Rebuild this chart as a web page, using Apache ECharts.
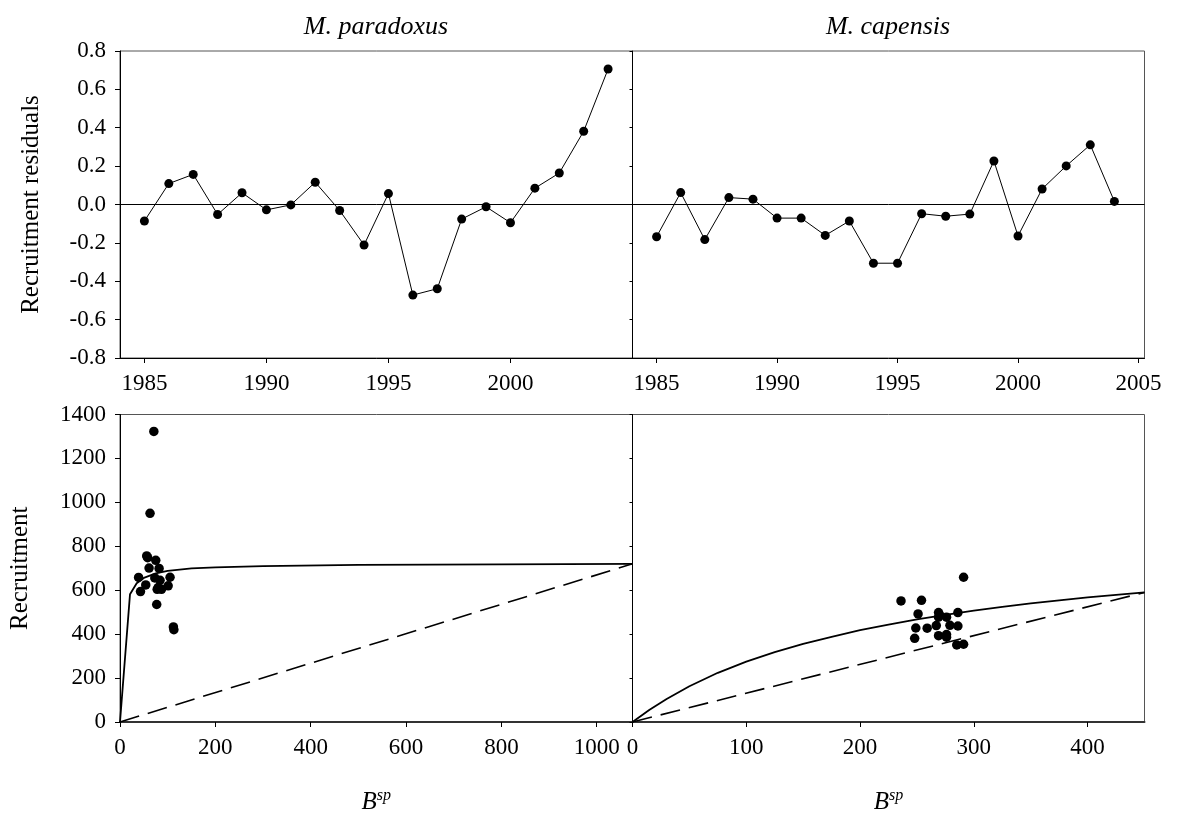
<!DOCTYPE html>
<html><head><meta charset="utf-8">
<script src="https://cdn.jsdelivr.net/npm/echarts@6/dist/echarts.min.js"></script>
<style>html,body{margin:0;padding:0;background:#fff}#c{width:1178px;height:818px}</style>
</head><body><div id="c"></div>
<script>
// ---- data ----
const years = [1985,1986,1987,1988,1989,1990,1991,1992,1993,1994,1995,1996,1997,1998,1999,2000,2001,2002,2003,2004];
const residParadoxus = [-0.086,0.109,0.157,-0.052,0.061,-0.028,-0.002,0.116,-0.031,-0.211,0.057,-0.472,-0.439,-0.076,-0.012,-0.095,0.085,0.164,0.382,0.706];
const residCapensis = [-0.168,0.062,-0.183,0.036,0.028,-0.071,-0.071,-0.161,-0.086,-0.306,-0.306,-0.048,-0.061,-0.050,0.227,-0.164,0.081,0.201,0.311,0.016];

const bspParadoxus = [71,63,56,75,61,82,39,105,73,84,54,43,78,87,101,77,112,113,58,80];
const recParadoxus = [1323,950,756,736,701,699,658,659,656,645,624,594,604,604,620,535,433,420,748,612];
const bspCapensis = [291,236,254,251,269,269,276,286,249,259,267,279,286,248,269,276,276,285,291,270];
const recCapensis = [659,551,554,492,498,477,477,498,428,427,439,440,437,381,393,398,386,351,354,487];

const curveParadoxusB = [0,21,35,50,75,100,150,200,300,500,800,1075];
const curveParadoxusR = [0,582,632,656,677,688,699,704,710,715,718,720];
const replParadoxusB = [0,1075];
const replParadoxusR = [0,720];
const curveCapensisB = [0,15,30,50,75,100,125,150,175,200,225,250,275,300,325,350,375,400,425,450];
const curveCapensisR = [0,56,105,163,224,275,318,356,388,418,443,467,488,507,524,540,554,567,579,590];
const replCapensisB = [0,450];
const replCapensisR = [0,590];

const yearTicksLeft = [1985,1990,1995,2000];
const yearTicksRight = [1985,1990,1995,2000,2005];
const bspTicksLeft = [0,200,400,600,800,1000];
const bspTicksRight = [0,100,200,300,400];

const titles = ['M. paradoxus','M. capensis'];

// ---- chart ----
const FONT = '"Liberation Serif","Times New Roman",serif';
const zip = (a,b) => a.map((v,i)=>[v,b[i]]);
const labelStyle = {color:'#000', fontFamily:FONT, fontSize:23};
const grids = [
  {left:120, top:51, width:512.5, height:307},
  {left:632.5, top:51, width:512, height:307},
  {left:120, top:414.5, width:512.5, height:307.5},
  {left:632.5, top:414.5, width:512, height:307.5}
].map(g=>Object.assign(g,{show:true, borderColor:'#555', borderWidth:1, backgroundColor:'transparent', containLabel:false}));

const plainFmt = v => String(Math.round(v));
function xAx(gi, min, max, ticks, thick){
  return {type:'value', gridIndex:gi, min, max,
    axisLine:{show:true, onZero:false, lineStyle:{color: thick?'#333':'#000', width: thick?2:1}},
    axisTick:{show:true, inside:false, length:5, customValues:ticks, lineStyle:{color:'#000'}},
    axisLabel:{show:true, customValues:ticks, margin:14, formatter:plainFmt, ...labelStyle},
    splitLine:{show:false}};
}
function yAx(gi, min, max, interval, showLabel, fmt){
  return {type:'value', gridIndex:gi, min, max, interval,
    axisLine:{show:true, onZero:false, lineStyle:{color:'#000', width:1}},
    axisTick:{show:true, inside:false, length: showLabel?5:3, lineStyle:{color:'#000'}},
    axisLabel:{show:showLabel, margin:14, formatter:fmt, ...labelStyle},
    splitLine:{show:false}};
}
const residFmt = v => Math.abs(v)<1e-9 ? '0.0' : v.toFixed(1);

const bName = {name:'{b|B}{s|sp}', nameLocation:'middle', nameGap:66,
  nameTextStyle:{rich:{b:{fontFamily:FONT,fontStyle:'italic',fontSize:25,color:'#000'},s:{fontFamily:FONT,fontStyle:'italic',fontSize:16,color:'#000',padding:[0,0,12,0]}}}};
const xAxes = [
  xAx(0,1984,2005,yearTicksLeft,false),
  xAx(1,1984,2005.25,yearTicksRight,false),
  Object.assign(xAx(2,0,1075,bspTicksLeft,true),bName),
  Object.assign(xAx(3,0,450,bspTicksRight,true),bName)
];
const yAxes = [
  Object.assign(yAx(0,-0.8,0.8,0.2,true,residFmt),{name:'Recruitment residuals', nameLocation:'middle', nameRotate:90, nameGap:76, nameTextStyle:{fontFamily:FONT,fontSize:25,color:'#000'}}),
  yAx(1,-0.8,0.8,0.2,false,residFmt),
  Object.assign(yAx(2,0,1400,200,true,plainFmt),{name:'Recruitment', nameLocation:'middle', nameRotate:90, nameGap:87, nameTextStyle:{fontFamily:FONT,fontSize:25,color:'#000'}}),
  yAx(3,0,1400,200,false,plainFmt)
];

const zeroLine = {silent:true, symbol:['none','none'], label:{show:false}, lineStyle:{color:'#000',width:1,type:'solid'}, data:[{yAxis:0}]};
function residSeries(i, vals){
  return {type:'line', xAxisIndex:i, yAxisIndex:i, data:zip(years, vals), symbol:'circle', symbolSize:9,
    lineStyle:{color:'#000',width:1}, itemStyle:{color:'#000', opacity:1}, markLine:zeroLine, z:3};
}
function scatterSeries(i,b,r){
  return {type:'scatter', xAxisIndex:i, yAxisIndex:i, data:zip(b,r), symbol:'circle', symbolSize:9.5, itemStyle:{color:'#000', opacity:1}, z:4};
}
function curveSeries(i,b,r,dashed){
  return {type:'line', xAxisIndex:i, yAxisIndex:i, data:zip(b,r), showSymbol:false, symbol:'none', smooth:false,
    lineStyle:{color:'#000', width:dashed?1.6:1.8, type: dashed?[20,9]:'solid'}};
}

const chart = echarts.init(document.getElementById('c'), null, {renderer:'canvas'});
chart.setOption({
  animation:false,
  backgroundColor:'#fff',
  grid:grids, xAxis:xAxes, yAxis:yAxes,
  graphic:[
    {type:'text', x:376, y:27, style:{text:titles[0], align:'center', verticalAlign:'middle', font:'italic 26px '+FONT, fill:'#000'}},
    {type:'text', x:888, y:27, style:{text:titles[1], align:'center', verticalAlign:'middle', font:'italic 26px '+FONT, fill:'#000'}}
  ],
  series:[
    residSeries(0,residParadoxus),
    residSeries(1,residCapensis),
    curveSeries(2,curveParadoxusB,curveParadoxusR,false),
    curveSeries(2,replParadoxusB,replParadoxusR,true),
    scatterSeries(2,bspParadoxus,recParadoxus),
    curveSeries(3,curveCapensisB,curveCapensisR,false),
    curveSeries(3,replCapensisB,replCapensisR,true),
    scatterSeries(3,bspCapensis,recCapensis)
  ]
});
</script></body></html>
